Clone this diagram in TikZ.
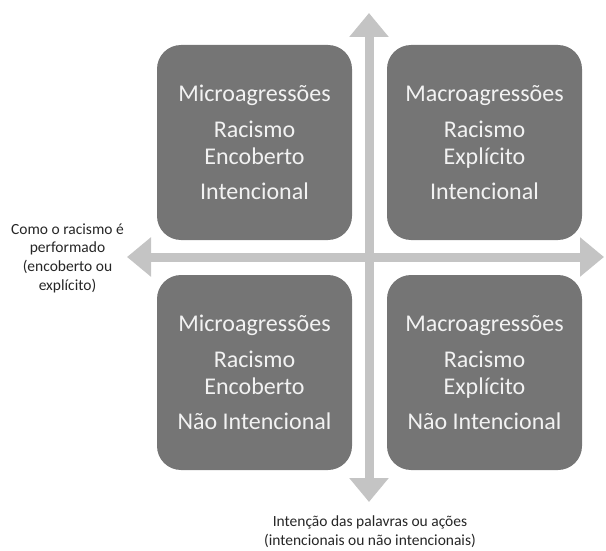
\documentclass[tikz,border=0pt]{standalone}
\usepackage{fontspec}
\setmainfont{Carlito}
\usetikzlibrary{arrows.meta}
\definecolor{boxgray}{RGB}{117,117,117}
\definecolor{axisgray}{RGB}{196,196,196}
\definecolor{boxtext}{RGB}{242,242,242}
\definecolor{labeltext}{RGB}{38,38,38}
\tikzset{
  quadbox/.style={fill=boxgray, rounded corners=24pt, minimum width=195pt, minimum height=195pt,
    text=boxtext, font=\fontsize{24}{26.5}\selectfont, align=center, inner sep=0pt},
  axis/.style={draw=axisgray, line width=9pt, {Triangle[width=38pt,length=24pt]}-{Triangle[width=38pt,length=24pt]}},
  axislabel/.style={text=labeltext, font=\fontsize{15.5}{18.7}\selectfont, align=center, inner sep=0pt}
}

\begin{document}
\begin{tikzpicture}[x=1pt,y=-1pt]
  \useasboundingbox (0,0) rectangle (606,551);
  % axes
  \coordinate (top) at (369,13);
  \coordinate (bottom) at (369,502);
  \coordinate (left) at (127,257);
  \coordinate (right) at (604,257);
  \draw[axis] (left) -- (right);
  \draw[axis] (bottom) -- (top);

  % quadrants
  \node[quadbox] (tl) at (254.5,142.5) {Microagressões\\[10pt]Racismo\\Encoberto\\[9pt]Intencional};
  \node[quadbox] (tr) at (484.5,142.5) {Macroagressões\\[10pt]Racismo\\Explícito\\[9pt]Intencional};
  \node[quadbox] (bl) at (254.5,372.5) {Microagressões\\[10pt]Racismo\\Encoberto\\[9pt]Não Intencional};
  \node[quadbox] (br) at (484.5,372.5) {Macroagressões\\[10pt]Racismo\\Explícito\\[9pt]Não Intencional};

  % axis labels
  \node[axislabel] (hlabel) at (67.5,258) {Como o racismo é\\performado\\(encoberto ou\\explícito)};
  \node[axislabel] (vlabel) at (370,532) {Intenção das palavras ou ações\\(intencionais ou não intencionais)};
\end{tikzpicture}
\end{document}
